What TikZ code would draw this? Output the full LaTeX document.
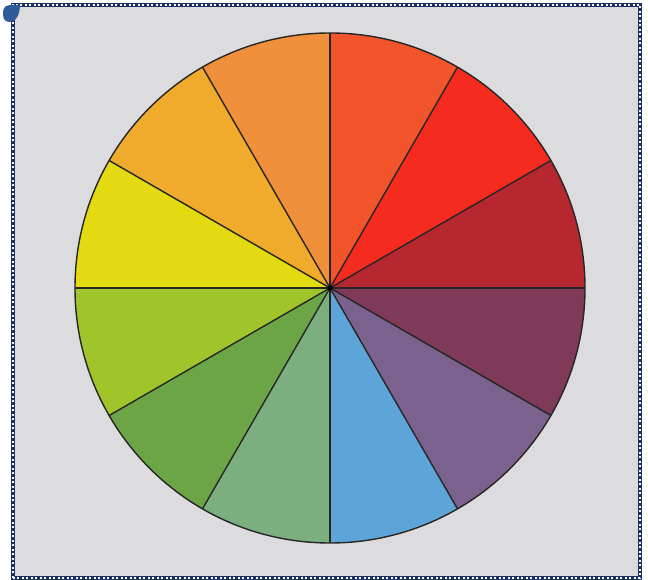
\documentclass[tikz,border=0pt]{standalone}
\definecolor{bg}{HTML}{DCDCDE}
\definecolor{frame}{HTML}{1C3066}
\definecolor{blob}{HTML}{2F5C98}
\definecolor{cA}{HTML}{F2552B}
\definecolor{cB}{HTML}{F42B1E}
\definecolor{cC}{HTML}{B7272F}
\definecolor{cD}{HTML}{7E3A56}
\definecolor{cE}{HTML}{7B628E}
\definecolor{cF}{HTML}{5DA5D8}
\definecolor{cG}{HTML}{7CAF80}
\definecolor{cH}{HTML}{6BA546}
\definecolor{cI}{HTML}{A0C52A}
\definecolor{cJ}{HTML}{E3DA12}
\definecolor{cK}{HTML}{F0AB2C}
\definecolor{cL}{HTML}{F1903A}
\tikzset{seam/.style={draw=black!85,line width=1.4pt}}
\begin{document}
\begin{tikzpicture}[x=1pt,y=1pt]
\useasboundingbox (0,0) rectangle (648,580);
\fill[white] (0,0) rectangle (648,580);
\fill[bg] (13,2) rectangle (640,575);
\coordinate (c) at (330,292);
\def\R{255}
\foreach \a/\col in {60/cA,30/cB,0/cC,-30/cD,-60/cE,-90/cF,-120/cG,-150/cH,-180/cI,150/cJ,120/cK,90/cL}{
  \fill[\col] (c) -- ++(\a:\R) arc[start angle=\a, delta angle=30, radius=\R] -- cycle;
}
\foreach \a in {0,30,...,330}{
  \draw[seam] (c) -- ++(\a:\R);
}
\draw[seam] (c) circle[radius=\R];
\fill[black] (c) circle[radius=2.5];
\draw[frame,line width=3.5pt] (13,2) rectangle (640,575);
\draw[white,line width=1.5pt,dash pattern=on 2pt off 2.5pt] (13,2) rectangle (640,575);
\fill[blob] (3,566) .. controls (3,574) and (6,575) .. (13,575) -- (20,575) .. controls (20,566) and (16,558) .. (10,558) .. controls (5,558) and (3,561) .. (3,566) -- cycle;
\end{tikzpicture}
\end{document}
